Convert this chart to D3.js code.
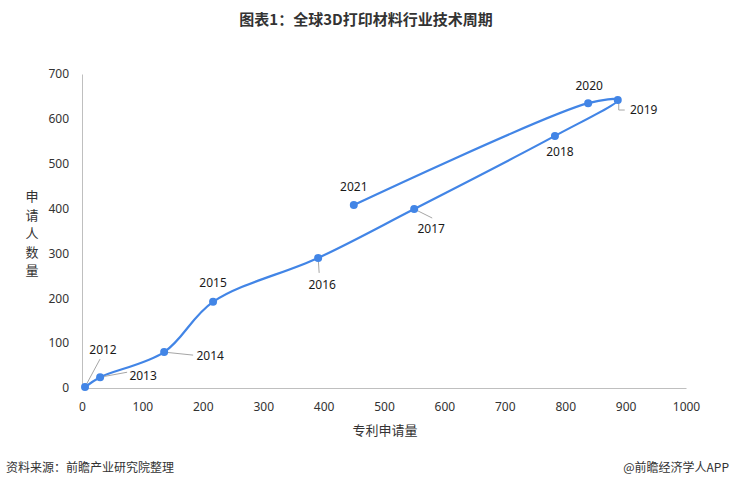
<!DOCTYPE html>
<html><head><meta charset="utf-8">
<script src="https://cdn.jsdelivr.net/npm/d3@7"></script>
<style>body{margin:0;background:#fff;}svg{display:block;font-family:"Noto Sans CJK SC","Noto Sans",sans-serif;}</style>
</head><body>
<svg id="c" width="733" height="488"></svg>
<script>
const years = ["2012","2013","2014","2015","2016","2017","2018","2019","2020","2021"];
const patents = [5, 30, 136, 217, 391, 550, 783, 887, 838, 450];
const applicants = [2, 24, 80, 192, 290, 399, 562, 642, 635, 408];
const xTicks = [0,100,200,300,400,500,600,700,800,900,1000];
const yTicks = [0,100,200,300,400,500,600,700];
const labelOffsets = [[18,-37],[43,-1],[46,4],[0,-19],[4,27],[17,20],[5,16],[26,10],[1,-17],[0,-18]];
const leaders = [true,true,true,false,true,true,false,true,false,false];

const svg = d3.select("#c");
const x = d3.scaleLinear().domain([0,1000]).range([82,686]);
const y = d3.scaleLinear().domain([0,700]).range([388,74]);
const txt = "#333";

svg.append("text").attr("x",366).attr("y",25).attr("text-anchor","middle")
  .attr("font-size",15).attr("font-weight","bold").attr("fill","#333").text("图表1：全球3D打印材料行业技术周期");

const xa = svg.append("g").attr("transform","translate(0,388)")
  .call(d3.axisBottom(x).tickValues(xTicks).tickSize(0).tickPadding(14).tickFormat(d3.format("d")));
const ya = svg.append("g").attr("transform","translate(82,0)")
  .call(d3.axisLeft(y).tickValues(yTicks).tickSize(0).tickPadding(13).tickFormat(d3.format("d")));
[xa,ya].forEach(a=>{
  a.select(".domain").attr("stroke","#bfbfbf");
  a.selectAll("text").attr("font-size",12).attr("fill",txt).attr("font-family","'Noto Sans','Noto Sans CJK SC',sans-serif");
});

svg.append("text").attr("x",385).attr("y",435).attr("text-anchor","middle").attr("font-size",13).attr("fill",txt).text("专利申请量");
const yTitle = "申请人数量".split("");
yTitle.forEach((ch,i)=>svg.append("text").attr("x",32).attr("y",201+i*18.5).attr("text-anchor","middle").attr("font-size",13).attr("fill",txt).text(ch));

const pts = years.map((yr,i)=>({yr, px:x(patents[i]), py:y(applicants[i]), i}));

const line = d3.line().x(d=>d.px).y(d=>d.py).curve(d3.curveCatmullRom.alpha(0.5));
svg.append("path").attr("d",line(pts)).attr("fill","none").attr("stroke","#4285e6").attr("stroke-width",2.2);

pts.forEach(p=>{
  if(!leaders[p.i]) return;
  const [dx,dy]=labelOffsets[p.i];
  let tx=p.px+dx, ty=p.py+dy;
  let path;
  if(p.yr==="2012") path=`M${p.px+1},${p.py-2}L${tx-3},${ty+9}`;
  else if(p.yr==="2013") path=`M${p.px},${p.py}L${tx-16},${ty-4}`;
  else if(p.yr==="2014") path=`M${p.px},${p.py}L${tx-17},${ty-1}`;
  else if(p.yr==="2016") path=`M${p.px},${p.py}L${p.px+1},${p.py+15}`;
  else if(p.yr==="2017") path=`M${p.px},${p.py}L${p.px+18},${p.py+9}`;
  else if(p.yr==="2019") path=`M${p.px+1},${p.py+3}L${p.px+1},${p.py+10}L${p.px+7},${p.py+10}`;
  svg.append("path").attr("d",path).attr("fill","none").attr("stroke","#a6a6a6").attr("stroke-width",1);
});

svg.selectAll("circle.pt").data(pts).enter().append("circle")
  .attr("cx",d=>d.px).attr("cy",d=>d.py).attr("r",4).attr("fill","#4285e6");

svg.selectAll("text.lbl").data(pts).enter().append("text")
  .attr("x",d=>d.px+labelOffsets[d.i][0]).attr("y",d=>d.py+labelOffsets[d.i][1]+4)
  .attr("text-anchor","middle").attr("font-size",12).attr("fill","#1a1a1a")
  .attr("font-family","'Noto Sans',sans-serif").text(d=>d.yr);

svg.append("text").attr("x",6).attr("y",472).attr("font-size",12).attr("fill","#333").text("资料来源：前瞻产业研究院整理");
svg.append("text").attr("x",729).attr("y",472).attr("text-anchor","end").attr("font-size",12).attr("fill","#333").text("@前瞻经济学人APP");
</script>
</body></html>
